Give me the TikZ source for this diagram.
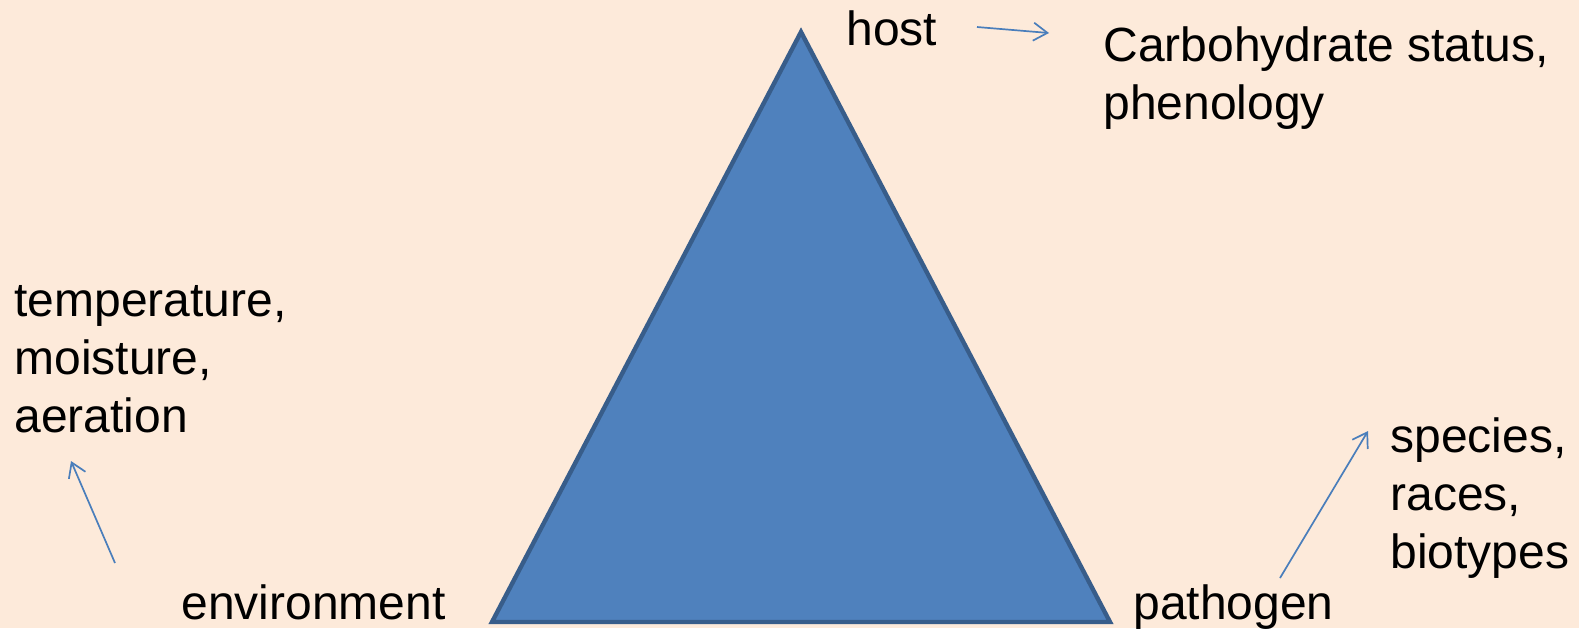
\documentclass[tikz,border=0pt]{standalone}
\usepackage{fontspec}
\setmainfont{Liberation Sans}
\usetikzlibrary{arrows.meta}
\definecolor{bgc}{HTML}{FDEADA}
\definecolor{trifill}{HTML}{4F81BD}
\definecolor{triline}{HTML}{385D8A}
\definecolor{arrc}{HTML}{4A7EBB}
\begin{document}
\begin{tikzpicture}[x=0.5pt,y=-0.5pt,
  lbl/.style={inner sep=0pt,anchor=base west,align=left,font=\fontsize{24pt}{28.8pt}\selectfont},
  arr/.style={draw=arrc,line width=0.85pt,-{Straight Barb[length=7pt,width=9pt]}}]
\fill[bgc] (0,0) rectangle (1579,628);
\useasboundingbox (0,0) rectangle (1579,628);
\draw[fill=trifill,draw=triline,line width=2.2pt,line join=miter] (801,32) -- (1110,622) -- (492,622) -- cycle;
\node[lbl] (host) at (846,45) {host};
\node[lbl] (carb) at (1103,119) {Carbohydrate status,\\phenology};
\node[lbl] (envf) at (14,432) {temperature,\\moisture,\\aeration};
\node[lbl] (env) at (181,619) {environment};
\node[lbl] (path) at (1133,619) {pathogen};
\node[lbl] (pathf) at (1390,568) {species,\\races,\\biotypes};
\coordinate (h1) at (977,27);
\coordinate (h2) at (1049,33);
\coordinate (e1) at (115,563);
\coordinate (e2) at (71,461);
\coordinate (p1) at (1280,578);
\coordinate (p2) at (1368,431);
\draw[arr] (h1) -- (h2);
\draw[arr] (e1) -- (e2);
\draw[arr] (p1) -- (p2);
\end{tikzpicture}
\end{document}
